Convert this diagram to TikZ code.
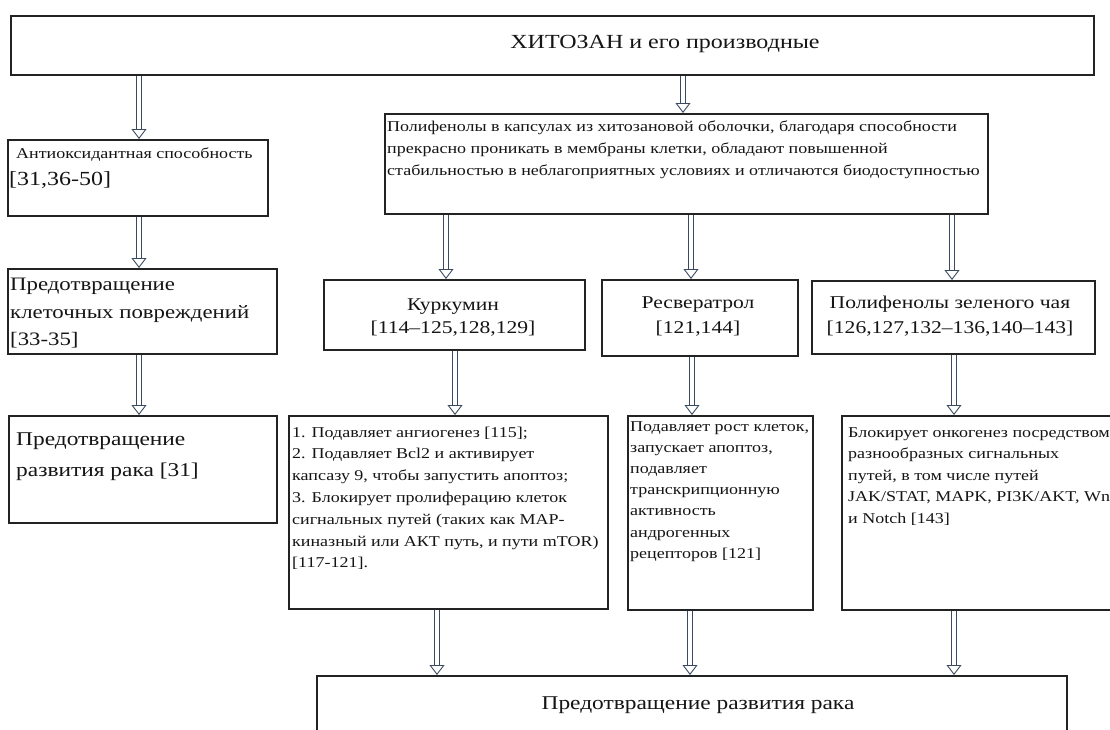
\documentclass[tikz,border=0pt]{standalone}
\usepackage{fontspec}
\setmainfont{Liberation Serif}
\usetikzlibrary{arrows.meta}
\definecolor{boxc}{HTML}{232323}
\definecolor{arrc}{HTML}{3A4A60}
\definecolor{txtc}{HTML}{151515}
\newcommand\fsz[1]{\fontsize{#1}{#1}\selectfont}
\newcommand\sx[1]{\scalebox{1.2}[1]{#1}}
\newcommand\hollowarrow[2]{%
  \draw[arrshaft] #1 -- #2;
  \draw[arrhead] #1 -- #2;}
\begin{document}
\begin{tikzpicture}[x=1pt,y=-1pt,
  box/.style={draw=boxc, line width=1.5pt, inner sep=0pt, anchor=north west},
  arrshaft/.style={draw=arrc, line width=0.9pt, double=white, double distance=4.4pt, shorten >=9pt, shorten <=0.9pt},
  arrhead/.style={draw=white, line width=0.1pt, shorten <=0.9pt,
    -{Triangle[length=10pt,width=15pt,line width=0.9pt,color=arrc,fill=white]}},
  txt/.style={text=txtc, inner sep=0pt},
  lt/.style={txt, anchor=base west},
  ct/.style={txt, anchor=base}]
\useasboundingbox (0,0) rectangle (1110,729);
\clip (0,0) rectangle (1110,729);
\fill[white] (0,0) rectangle (1110,729);

% boxes
\node[box, minimum width=1083pt, minimum height=59pt] (top) at (10,15) {};
\node[box, minimum width=260pt, minimum height=76pt] (A) at (7,139) {};
\node[box, minimum width=269pt, minimum height=85pt] (B) at (7,268) {};
\node[box, minimum width=268pt, minimum height=107pt] (C) at (8,415) {};
\node[box, minimum width=603pt, minimum height=100pt] (poly) at (384,113) {};
\node[box, minimum width=261pt, minimum height=70pt] (curc) at (323,279) {};
\node[box, minimum width=196pt, minimum height=76pt] (resv) at (601,279) {};
\node[box, minimum width=283pt, minimum height=73pt] (green) at (811,280) {};
\node[box, minimum width=319pt, minimum height=193pt] (curcD) at (288,415) {};
\node[box, minimum width=185pt, minimum height=194pt] (resvD) at (627,415) {};
\node[box, minimum width=300pt, minimum height=194pt] (greenD) at (841,415) {};
\node[box, minimum width=750pt, minimum height=80pt] (bot) at (316,675) {};

% arrow x positions
\coordinate (xA) at (139,0);
\coordinate (xP) at (683,0);
\coordinate (xC1) at (446,0);
\coordinate (xR1) at (691,0);
\coordinate (xG1) at (952,0);
\coordinate (xC2) at (455,0);
\coordinate (xR2) at (692,0);
\coordinate (xG2) at (954,0);
\coordinate (xC3) at (437,0);
\coordinate (xR3) at (690,0);
\coordinate (xG3) at (954,0);

% arrows
\hollowarrow{(top.south -| xA)}{(A.north -| xA)}
\hollowarrow{(top.south -| xP)}{(poly.north -| xP)}
\hollowarrow{(A.south -| xA)}{(B.north -| xA)}
\hollowarrow{(B.south -| xA)}{(C.north -| xA)}
\hollowarrow{(poly.south -| xC1)}{(curc.north -| xC1)}
\hollowarrow{(poly.south -| xR1)}{(resv.north -| xR1)}
\hollowarrow{(poly.south -| xG1)}{(green.north -| xG1)}
\hollowarrow{(curc.south -| xC2)}{(curcD.north -| xC2)}
\hollowarrow{(resv.south -| xR2)}{(resvD.north -| xR2)}
\hollowarrow{(green.south -| xG2)}{(greenD.north -| xG2)}
\hollowarrow{(curcD.south -| xC3)}{(bot.north -| xC3)}
\hollowarrow{(resvD.south -| xR3)}{(bot.north -| xR3)}
\hollowarrow{(greenD.south -| xG3)}{(bot.north -| xG3)}

% texts
\node[txt, font=\fsz{20}] (t0) at (665,44) {\sx{ХИТОЗАН и его производные}};

\node[lt, font=\fsz{15}] (a1) at (16,158) {\sx{Антиоксидантная способность}};
\node[lt, font=\fsz{20}] (a2) at (9,185) {\sx{[31,36-50]}};

\node[lt, font=\fsz{19}] (b1) at (10,290) {\sx{Предотвращение}};
\node[lt, font=\fsz{19}] (b2) at (10,318) {\sx{клеточных повреждений}};
\node[lt, font=\fsz{19}] (b3) at (10,345) {\sx{[33-35]}};

\node[lt, font=\fsz{19.5}] (c1) at (16,445) {\sx{Предотвращение}};
\node[lt, font=\fsz{19.5}] (c2) at (16,476) {\sx{развития рака [31]}};

\node[lt, font=\fsz{15}] (p1) at (387,131) {\sx{Полифенолы в капсулах из хитозановой оболочки, благодаря способности}};
\node[lt, font=\fsz{15}] (p2) at (387,153) {\sx{прекрасно проникать в мембраны клетки, обладают повышенной}};
\node[lt, font=\fsz{15}] (p3) at (387,175) {\sx{стабильностью в неблагоприятных условиях и отличаются биодоступностью}};

\node[ct, font=\fsz{18}] (k1) at (453,310) {\sx{Куркумин}};
\node[ct, font=\fsz{18}] (k2) at (453,333) {\sx{[114–125,128,129]}};
\node[ct, font=\fsz{18}] (r1) at (698,308) {\sx{Ресвератрол}};
\node[ct, font=\fsz{18}] (r2) at (698,333) {\sx{[121,144]}};
\node[ct, font=\fsz{18}] (g1) at (950,308) {\sx{Полифенолы зеленого чая}};
\node[ct, font=\fsz{18}] (g2) at (950,333) {\sx{[126,127,132–136,140–143]}};

\foreach \s [count=\i] in {{1. Подавляет ангиогенез [115];},{2. Подавляет Bcl2 и активирует},{капсазу 9, чтобы запустить апоптоз;},{3. Блокирует пролиферацию клеток},{сигнальных путей (таких как MAP-},{киназный или АКТ путь, и пути mTOR)},{[117-121].}}
  \node[lt, font=\fsz{15}] (cd\i) at (292,{437+21.8*(\i-1)}) {\sx{\s}};

\foreach \s [count=\i] in {{Подавляет рост клеток,},{запускает апоптоз,},{подавляет},{транскрипционную},{активность},{андрогенных},{рецепторов [121]}}
  \node[lt, font=\fsz{15}] (rd\i) at (630,{431+21.2*(\i-1)}) {\sx{\s}};

\foreach \s [count=\i] in {{Блокирует онкогенез посредством},{разнообразных сигнальных},{путей, в том числе путей},{JAK/STAT, MAPK, PI3K/AKT, Wnt},{и Notch [143]}}
  \node[lt, font=\fsz{15}] (gd\i) at (848,{437+21.5*(\i-1)}) {\sx{\s}};

\node[txt, font=\fsz{19.5}] (bt) at (698,705) {\sx{Предотвращение развития рака}};
\end{tikzpicture}
\end{document}
